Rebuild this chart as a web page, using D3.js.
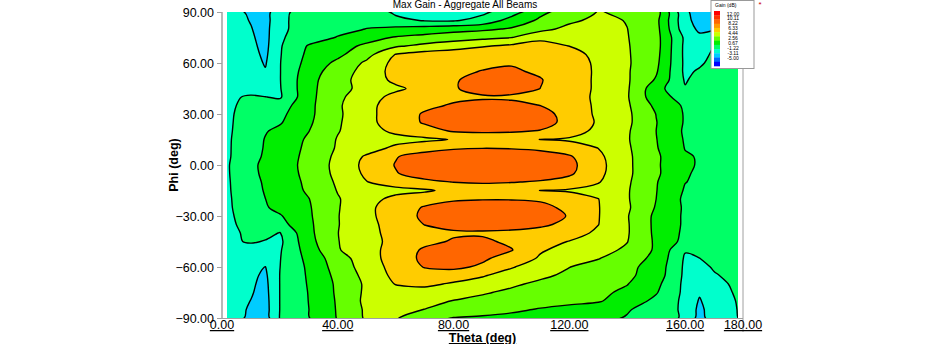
<!DOCTYPE html>
<html><head><meta charset="utf-8">
<script src="https://cdn.jsdelivr.net/npm/d3@7"></script>
<style>
body{margin:0;background:#fff;}
svg{display:block;font-family:"Liberation Sans",Arial,sans-serif;}
</style></head><body>
<svg id="chart" width="930" height="344"></svg>
<script>
// ---- data ----
const thetaValues = [0,10,15,20,30,40,50,60,70,80,90,100,110,120,130,140,150,160,165,170,180];
const phiValues = [90,85,80,75,70,65,60,55,50,45,40,35,30,25,20,15,10,5,0,-5,-10,-15,-20,-25,-30,-35,-40,-45,-50,-55,-60,-65,-70,-75,-80,-85,-90];
// gain (dB) sampled on the theta x phi grid; one row per phi value (top to bottom)
const gainRows = [
[-0.3,-1.5,-2.0,0.2,1.5,2.0,2.1,0.3,-0.5,-0.6,0.3,1.72,4.0,5.33,6.4,6.08,5.3,-0.9,-2.0,-2.0,-1.5],
[-0.3,-1.3,-1.95,0.3,1.5,1.9,2.1,1.2,0.55,0.5,1.3,3.28,4.76,5.93,6.85,6.24,4.97,-0.7,-1.9,-1.9,-1.4],
[-0.25,-1.15,-1.85,0.4,1.3,1.98,2.6,3.0,3.4,3.8,4.1,4.63,5.72,6.9,7.2,6.35,5.07,-0.5,-1.5,-1.6,-1.2],
[-0.2,-1.0,-1.8,0.45,1.67,2.67,3.75,4.59,5.02,5.45,5.87,6.3,7.9,7.8,7.2,6.4,5.13,0.3,-0.9,0.5,1.1],
[-0.2,-0.85,-1.7,0.5,2.73,3.73,4.79,6.07,6.82,7.44,8.05,8.6,8.7,8.2,7.32,6.45,5.15,0.25,-0.3,0.7,1.3],
[-0.2,-0.7,-1.55,0.55,3.0,4.04,5.7,8.3,9.0,9.2,9.4,9.5,9.4,9.0,7.64,6.5,5.03,0.25,0.0,1.0,1.5],
[-0.2,-0.6,-1.35,0.6,3.28,4.84,6.68,8.8,9.3,9.6,9.9,10.0,9.8,9.2,7.86,6.55,4.87,0.3,0.4,1.2,1.6],
[-0.2,-0.5,-1.1,0.6,3.64,5.33,7.05,8.9,9.4,9.9,10.15,10.3,9.9,9.3,7.89,6.52,4.64,0.3,0.9,1.4,1.7],
[-0.2,-0.4,-0.8,0.6,3.87,5.58,7.24,8.6,9.2,9.95,10.7,10.9,10.2,9.2,7.9,6.55,4.24,0.5,1.3,1.6,1.8],
[-0.15,-0.3,-0.5,0.55,3.91,5.75,6.93,7.9,8.8,9.95,10.8,10.9,10.1,9.2,7.9,6.55,3.31,0.8,1.8,1.9,1.9],
[0.1,0.95,0.7,0.45,3.93,5.91,7.52,8.7,9.3,9.7,9.9,9.8,9.5,9.0,7.9,6.5,3.3,1.9,2.1,2.0,2.0],
[0.15,1.2,1.4,1.6,3.98,6.07,7.76,9.0,9.7,10.3,10.6,10.6,10.1,9.2,7.9,6.6,4.0,2.3,2.2,2.1,2.0],
[0.15,1.4,1.7,2.1,4.03,6.02,7.75,9.1,10.3,11.0,11.2,11.1,10.8,9.4,7.9,6.7,4.4,2.4,2.3,2.1,2.0],
[0.15,1.5,1.95,2.4,4.17,6.1,7.77,9.0,10.3,11.0,11.2,11.1,10.9,9.5,8.0,6.7,4.5,2.4,2.3,2.1,2.0],
[0.15,1.6,2.45,2.96,4.41,6.23,7.5,8.6,9.3,10.3,10.4,10.35,10.0,9.0,7.79,6.55,4.44,2.3,2.2,2.0,1.9],
[0.15,1.75,2.65,3.36,4.68,6.45,7.0,7.6,7.9,8.3,8.9,8.7,8.2,8.0,7.5,6.5,4.5,2.4,2.2,1.95,1.85],
[0.15,1.8,2.72,3.45,4.8,6.53,7.4,8.6,9.3,9.85,10.05,9.95,9.6,9.1,8.2,6.6,4.58,2.5,2.3,2.0,1.85],
[0.15,1.85,2.85,3.51,4.92,6.76,8.47,10.0,10.9,11.4,11.6,11.5,11.2,10.3,8.63,6.68,4.76,2.72,2.45,2.2,1.9],
[0.15,2.15,3.0,3.55,5.01,6.89,8.73,10.2,11.1,11.6,11.9,11.8,11.5,10.6,8.81,6.71,4.71,2.87,2.4,2.3,2.0],
[0.15,2.1,2.95,3.5,4.95,6.82,8.57,10.0,10.9,11.4,11.6,11.5,11.2,10.4,8.7,6.7,4.76,2.7,2.35,2.2,1.9],
[0.15,1.95,2.8,3.45,4.8,6.61,8.17,9.0,9.7,10.15,10.3,10.2,9.9,9.4,8.35,6.6,4.55,2.6,2.3,2.1,1.9],
[0.15,1.85,2.7,3.4,4.68,6.42,7.1,7.7,7.95,8.7,9.1,8.8,8.2,8.0,7.5,6.5,4.5,2.4,2.2,2.0,1.85],
[0.15,1.7,2.55,3.24,4.4,6.2,7.57,8.7,9.4,9.85,10.0,10.0,9.8,9.3,8.25,6.5,4.44,2.2,2.1,1.95,1.85],
[0.15,1.6,2.4,3.06,4.27,6.21,7.77,9.2,10.25,10.9,11.1,11.0,10.7,9.6,8.3,6.6,4.3,2.3,2.15,2.0,1.9],
[0.15,1.4,2.0,2.4,4.19,6.26,7.72,9.28,10.4,11.1,11.2,11.1,10.9,10.0,8.3,6.45,4.03,2.3,2.15,2.05,1.9],
[0.15,1.2,1.6,1.9,4.09,6.25,7.71,8.95,10.15,10.7,10.8,10.7,10.4,9.7,8.25,6.5,4.0,2.3,2.1,2.05,1.9],
[0.1,1.0,1.2,0.6,4.0,6.3,7.7,8.8,9.5,9.85,9.9,9.8,9.5,9.0,7.88,6.5,4.04,2.2,2.05,2.0,1.85],
[0.1,0.9,0.55,0.3,3.82,6.26,7.65,8.7,9.6,10.3,10.4,9.8,8.9,8.16,7.25,6.38,4.14,2.0,1.9,1.8,1.7],
[-0.1,-0.3,0.0,0.5,3.43,6.18,7.6,8.9,10.4,10.9,10.7,10.2,8.4,7.65,6.9,6.05,4.16,0.8,1.0,1.3,1.7],
[-0.2,-0.6,-0.6,0.6,3.12,5.48,7.37,9.1,10.5,10.9,10.4,9.3,8.0,7.0,6.4,5.3,3.98,0.45,0.65,1.1,1.6],
[-0.2,-0.8,-1.25,0.65,2.9,5.23,7.18,8.9,10.2,10.5,9.8,8.35,7.34,6.36,5.64,4.9,3.7,0.35,0.3,0.8,1.4],
[-0.25,-0.9,-1.5,0.7,2.8,4.96,6.9,8.7,9.3,9.1,8.35,7.55,6.65,5.98,5.4,4.8,3.55,0.3,0.1,0.55,1.2],
[-0.3,-1.0,-1.65,0.7,2.72,4.77,6.66,8.3,8.6,8.0,7.6,6.6,5.99,5.5,5.0,4.5,3.05,0.25,-0.1,0.25,1.1],
[-0.3,-1.1,-1.75,0.7,2.64,4.73,6.7,7.4,7.5,7.2,6.5,6.0,5.6,5.2,4.8,4.1,2.7,0.25,-1.0,0.1,1.0],
[-0.3,-1.25,-1.85,0.7,2.6,4.65,6.8,7.1,6.95,6.25,5.9,5.6,5.2,4.9,4.6,3.6,2.1,0.25,-1.4,0.0,0.9],
[-0.3,-1.4,-1.9,0.7,2.55,4.6,6.65,6.9,6.3,5.9,5.4,4.8,4.3,3.9,3.5,2.7,1.8,0.3,-1.7,-0.2,0.9],
[-0.3,-1.5,-2.0,0.75,2.5,4.55,6.6,6.45,5.4,4.35,4.1,3.9,3.7,3.4,3.0,2.45,1.6,0.4,-1.9,-0.2,0.85]
];
const contourLevels = [-1.22, 0.67, 2.56, 4.44, 6.33, 8.22, 10.11];
const bandColors = ["#00ccff","#00ffcc","#00ff66","#00ee00","#66ff00","#ccff00","#ffcc00","#ff6600"];
const legendLabels = ["12.00","10.11","8.22","6.33","4.44","2.56","0.67","-1.22","-3.11","-5.00"];
const legendColors = ["#ff0000","#ff3300","#ff6600","#ff9900","#ffcc00","#ccff00","#66ff00","#00ee00","#00ff66","#00ffcc","#00ccff","#0066ff","#0000ff"];
const xTickValues = [0,40,80,120,160,180];
const yTickValues = [90,60,30,0,-30,-60,-90];
const fillThetaRange = [1.7, 178.3];

// ---- layout ----
const svg = d3.select("#chart");
const x = d3.scaleLinear().domain([0,180]).range([222,743]);
const y = d3.scaleLinear().domain([90,-90]).range([12,318]);

const nx = thetaValues.length, ny = phiValues.length;
// grid index -> data coordinate (piecewise linear, handles uneven theta spacing)
const idxTheta = d3.scaleLinear().domain(d3.range(nx)).range(thetaValues);
const idxPhi = d3.scaleLinear().domain(d3.range(ny)).range(phiValues);
const flat = gainRows.flat();
const contours = d3.contours().size([nx, ny]).thresholds(contourLevels)(flat);

const toPx = p => [x(idxTheta(p[0]-0.5)), y(idxPhi(p[1]-0.5))];
const ringLine = d3.line().curve(d3.curveCatmullRomClosed.alpha(0.5));
function contourPath(c){
  let d = "";
  c.coordinates.forEach(poly => poly.forEach(ring => {
    const pts = ring.slice(0, ring.length-1).map(toPx);
    if (pts.length > 2) d += ringLine(pts);
  }));
  return d;
}

const defs = svg.append("defs");
defs.append("clipPath").attr("id","plotClip").append("rect")
  .attr("x", x(fillThetaRange[0])).attr("y", y(90))
  .attr("width", x(fillThetaRange[1]) - x(fillThetaRange[0]))
  .attr("height", y(-90) - y(90));

const plot = svg.append("g").attr("clip-path","url(#plotClip)");
plot.append("rect").attr("x", x(0)).attr("y", y(90)).attr("width", x(180)-x(0)).attr("height", y(-90)-y(90))
  .attr("fill", bandColors[0]);
plot.selectAll("path.band").data(contours).join("path").attr("class","band")
  .attr("d", contourPath).attr("fill", (d,i) => bandColors[i+1]).attr("fill-rule","evenodd");
plot.selectAll("path.iso").data(contours).join("path").attr("class","iso")
  .attr("d", contourPath).attr("fill","none").attr("stroke","#000").attr("stroke-width",1.4);

// axes
const axisColor = "#a0a0a0";
svg.append("line").attr("x1", x(0)).attr("x2", x(0)).attr("y1", y(90)).attr("y2", y(-90)+1).attr("stroke", axisColor).attr("stroke-width",1.5);
svg.append("line").attr("x1", x(180)).attr("x2", x(180)).attr("y1", 68).attr("y2", 332).attr("stroke", axisColor).attr("stroke-width",1);
svg.append("line").attr("x1", x(0)).attr("x2", x(180)).attr("y1", y(-90)+0.5).attr("y2", y(-90)+0.5).attr("stroke", axisColor).attr("stroke-width",1);

const yAxis = d3.axisLeft(y).tickValues(yTickValues).tickFormat(d3.format(".2f")).tickSize(5).tickPadding(3);
const gy = svg.append("g").attr("transform", `translate(${x(0)},0)`).call(yAxis);
gy.select(".domain").remove();
gy.selectAll(".tick line").attr("stroke", axisColor);
gy.selectAll(".tick text").attr("font-size", 12.5).attr("fill","#000").attr("font-family","Liberation Sans, Arial, sans-serif");

const gx = svg.append("g").attr("transform", `translate(0,${y(-90)})`);
xTickValues.forEach(v => {
  gx.append("text").attr("x", x(v)).attr("y", 11).attr("text-anchor","middle")
    .attr("font-size", 12.5).attr("text-decoration","underline").attr("fill","#000").text(d3.format(".2f")(v));
});

svg.append("text").attr("x", x(90)).attr("y", 342).attr("text-anchor","middle")
  .attr("font-size", 12.5).attr("font-weight","bold").attr("text-decoration","underline").text("Theta (deg)");
svg.append("text").attr("transform", `translate(178,${y(0)}) rotate(-90)`).attr("text-anchor","middle")
  .attr("font-size", 12.5).attr("font-weight","bold").text("Phi (deg)");
svg.append("text").attr("x", 465).attr("y", 8).attr("text-anchor","middle").attr("font-size", 10).text("Max Gain - Aggregate All Beams");

// legend
const lg = svg.append("g");
lg.append("rect").attr("x", 711).attr("y", 0.5).attr("width", 43).attr("height", 68).attr("fill","#fff").attr("stroke","#999");
lg.append("text").attr("x", 715).attr("y", 7).attr("font-size", 5).text("Gain (dB)");
const legY = d3.scaleBand().domain(d3.range(legendColors.length)).range([11, 66]);
lg.selectAll("rect.sw").data(legendColors).join("rect").attr("class","sw")
  .attr("x", 714).attr("width", 6).attr("y", (d,i) => legY(i)).attr("height", legY.bandwidth()+0.3).attr("fill", d => d);
const legT = d3.scaleLinear().domain([0, legendLabels.length-1]).range([15.5, 60]);
lg.selectAll("text.lab").data(legendLabels).join("text").attr("class","lab")
  .attr("x", 733).attr("y", (d,i) => legT(i)).attr("text-anchor","middle").attr("font-size", 5).text(d => d);
svg.append("text").attr("x", 760).attr("y", 7).attr("font-size", 8).attr("fill","#c00").attr("text-anchor","middle").text("*");
</script>
</body></html>
